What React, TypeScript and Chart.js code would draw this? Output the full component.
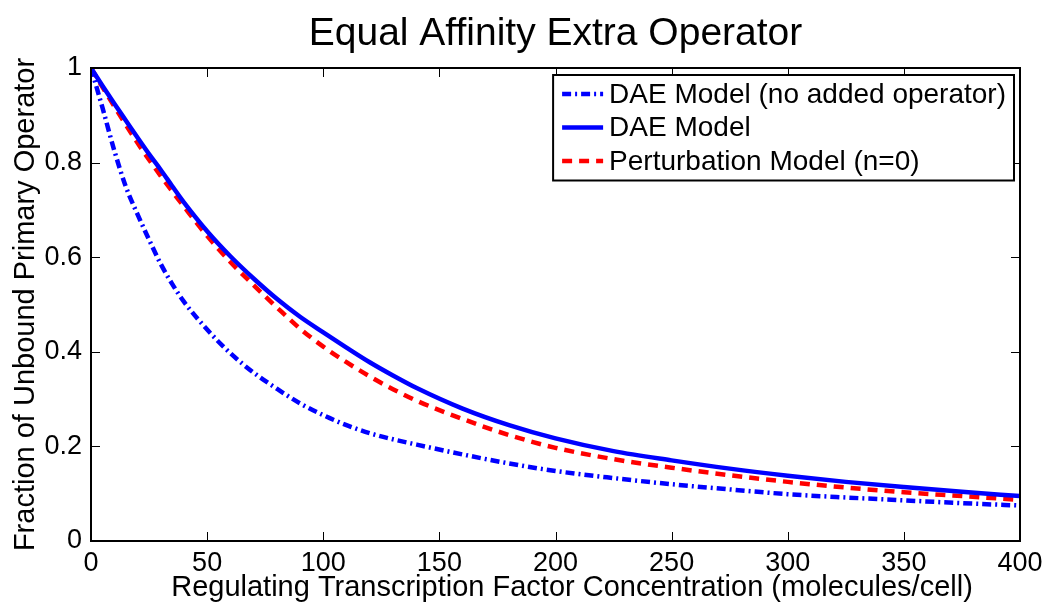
import React, { useEffect, useRef } from 'react';
import { Chart, registerables } from 'chart.js';

Chart.register(...registerables);

const TITLE = 'Equal Affinity Extra Operator';
const X_LABEL = 'Regulating Transcription Factor Concentration (molecules/cell)';
const Y_LABEL = 'Fraction of Unbound Primary Operator';

const X_TICKS = [0, 50, 100, 150, 200, 250, 300, 350, 400];
const X_TICK_LABELS = ['0', '50', '100', '150', '200', '250', '300', '350', '400'];
const Y_TICKS = [0, 0.2, 0.4, 0.6, 0.8, 1];
const Y_TICK_LABELS = ['0', '0.2', '0.4', '0.6', '0.8', '1'];

const SERIES_LABELS = ['DAE Model (no added operator)', 'DAE Model', 'Perturbation Model (n=0)'];

const X_VALUES = [0, 5, 10, 15, 20, 25, 30, 35, 40, 50, 60, 70, 80, 90, 100, 110, 120, 130, 140, 160, 180, 200, 225, 250, 275, 300, 325, 350, 375, 400];

const DAE_NO_OPERATOR = [1.0, 0.915, 0.826, 0.749, 0.691, 0.637, 0.586, 0.543, 0.506, 0.447, 0.397, 0.356, 0.322, 0.291, 0.266, 0.245, 0.228, 0.215, 0.204, 0.183, 0.164, 0.148, 0.133, 0.120, 0.109, 0.099, 0.092, 0.086, 0.080, 0.075];
const DAE = [1.0, 0.962, 0.925, 0.889, 0.853, 0.818, 0.785, 0.750, 0.716, 0.655, 0.602, 0.555, 0.512, 0.474, 0.441, 0.409, 0.378, 0.350, 0.324, 0.280, 0.245, 0.217, 0.190, 0.1705, 0.153, 0.138, 0.125, 0.114, 0.104, 0.095];
const PERTURBATION = [1.0, 0.959, 0.919, 0.880, 0.842, 0.806, 0.772, 0.739, 0.707, 0.645, 0.590, 0.541, 0.494, 0.449, 0.411, 0.378, 0.348, 0.321, 0.297, 0.258, 0.224, 0.197, 0.173, 0.155, 0.139, 0.125, 0.113, 0.103, 0.095, 0.087];

const FONT = '"Liberation Sans", Arial, Helvetica, sans-serif';

const STYLES = [
  { color: '#0000ff', dash: [9, 4, 2, 4], width: 4.5 },
  { color: '#0000ff', dash: [] as number[], width: 4.5 },
  { color: '#ff0000', dash: [10, 7], width: 4.5 },
];

const framePlugin = {
  id: 'matlabFrame',
  afterDatasetsDraw(chart: any) {
    const { ctx, chartArea: a, scales } = chart;
    ctx.save();
    ctx.strokeStyle = '#000';
    ctx.lineWidth = 1;
    const tl = 9;
    const seg = (x1: number, y1: number, x2: number, y2: number) => {
      ctx.beginPath();
      ctx.moveTo(x1, y1);
      ctx.lineTo(x2, y2);
      ctx.stroke();
    };
    X_TICKS.forEach((v) => {
      const x = Math.round(scales.x.getPixelForValue(v)) + 0.5;
      seg(x, a.bottom, x, a.bottom - tl);
      seg(x, a.top, x, a.top + tl);
    });
    Y_TICKS.forEach((v) => {
      const y = Math.round(scales.y.getPixelForValue(v)) + 0.5;
      seg(a.left, y, a.left + tl, y);
      seg(a.right, y, a.right - tl, y);
    });
    ctx.lineWidth = 2;
    ctx.strokeRect(a.left, a.top, a.right - a.left, a.bottom - a.top);

    // titles
    ctx.fillStyle = '#000';
    ctx.textAlign = 'center';
    ctx.textBaseline = 'alphabetic';
    ctx.font = `39px ${FONT}`;
    ctx.fillText(TITLE, (a.left + a.right) / 2, 45);
    ctx.font = `29px ${FONT}`;
    ctx.textBaseline = 'middle';
    ctx.fillText(X_LABEL, 572, 588);
    ctx.save();
    ctx.translate(26, (a.top + a.bottom) / 2);
    ctx.rotate(-Math.PI / 2);
    ctx.fillText(Y_LABEL, 0, 0);
    ctx.restore();

    // legend
    ctx.font = `28px ${FONT}`;
    const textW = Math.max(...SERIES_LABELS.map((l) => ctx.measureText(l).width));
    const padL = 9, sampleW = 41, gap = 6, padR = 8;
    const boxW = padL + sampleW + gap + textW + padR;
    const rowH = 33.5;
    const boxH = rowH * 3 + 5;
    const boxX = a.right - 6 - boxW;
    const boxY = a.top + 7;
    ctx.fillStyle = '#fff';
    ctx.fillRect(boxX, boxY, boxW, boxH);
    ctx.lineWidth = 2;
    ctx.strokeStyle = '#000';
    ctx.strokeRect(boxX, boxY, boxW, boxH);
    SERIES_LABELS.forEach((label, i) => {
      const cy = boxY + 19 + i * rowH;
      const st = STYLES[i];
      ctx.save();
      ctx.strokeStyle = st.color;
      ctx.lineWidth = st.width;
      ctx.setLineDash(st.dash);
      seg(boxX + padL, cy, boxX + padL + sampleW, cy);
      ctx.restore();
      ctx.fillStyle = '#000';
      ctx.textBaseline = 'middle';
      ctx.textAlign = 'left';
      ctx.fillText(label, boxX + padL + sampleW + gap, cy + 1);
    });
    ctx.restore();
  },
};

export default function App() {
  const ref = useRef<HTMLCanvasElement>(null);
  useEffect(() => {
    if (!ref.current) return;
    const seriesValues = [DAE_NO_OPERATOR, DAE, PERTURBATION];
    const chart = new Chart(ref.current, {
      type: 'line',
      data: {
        datasets: seriesValues.map((vals, i) => ({
          label: SERIES_LABELS[i],
          data: X_VALUES.map((x, j) => ({ x, y: vals[j] })),
          borderColor: STYLES[i].color,
          borderDash: STYLES[i].dash,
          borderWidth: STYLES[i].width,
          pointRadius: 0,
          fill: false,
          cubicInterpolationMode: 'monotone' as const,
        })),
      },
      options: {
        animation: false,
        responsive: false,
        devicePixelRatio: 1,
        layout: { padding: { left: 0, right: 25, top: 68, bottom: 0 } },
        plugins: {
          legend: { display: false },
          tooltip: { enabled: false },
          title: { display: false },
        },
        scales: {
          x: {
            type: 'linear',
            min: 0,
            max: 400,
            afterBuildTicks: (s: any) => {
              s.ticks = X_TICKS.map((v) => ({ value: v }));
            },
            afterFit: (s: any) => {
              s.height = 61;
              s.paddingLeft = 0;
              s.paddingRight = 0;
            },
            grid: { display: false, drawTicks: false },
            border: { display: false },
            ticks: {
              color: '#000',
              font: { family: FONT, size: 27 },
              padding: 6,
              maxRotation: 0,
              callback: (v: any) => {
                const i = X_TICKS.indexOf(Number(v));
                return i >= 0 ? X_TICK_LABELS[i] : '';
              },
            },
          },
          y: {
            type: 'linear',
            min: 0,
            max: 1,
            afterBuildTicks: (s: any) => {
              s.ticks = Y_TICKS.map((v) => ({ value: v }));
            },
            afterFit: (s: any) => {
              s.width = 91;
              s.paddingTop = 0;
              s.paddingBottom = 0;
            },
            grid: { display: false, drawTicks: false },
            border: { display: false },
            ticks: {
              color: '#000',
              font: { family: FONT, size: 27 },
              padding: 9,
              callback: (v: any) => {
                const i = Y_TICKS.findIndex((t) => Math.abs(t - Number(v)) < 1e-9);
                return i >= 0 ? Y_TICK_LABELS[i] : '';
              },
            },
          },
        },
      },
      plugins: [framePlugin],
    });
    return () => chart.destroy();
  }, []);
  return (
    <div style={{ position: 'absolute', left: 0, top: 0, width: 1045, height: 602, background: '#fff' }}>
      <canvas ref={ref} width={1045} height={602} style={{ width: 1045, height: 602, display: 'block' }} />
    </div>
  );
}
